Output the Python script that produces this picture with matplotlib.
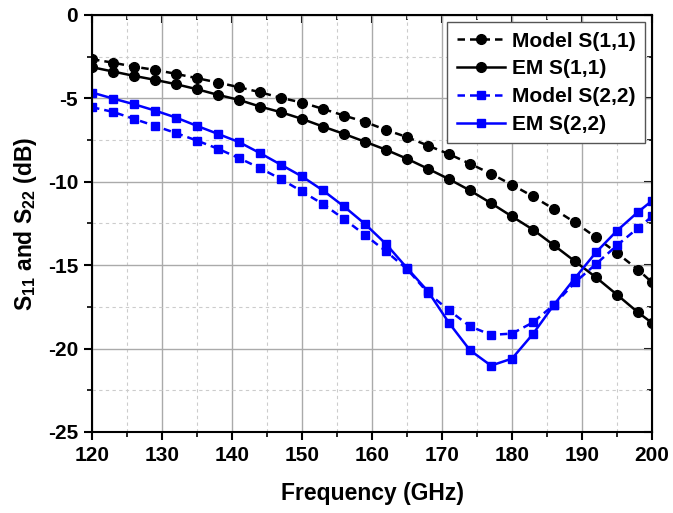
import matplotlib
matplotlib.use("Agg")
import matplotlib.pyplot as plt
from matplotlib.ticker import MultipleLocator

plt.rcParams['font.family'] = ['Liberation Sans', 'DejaVu Sans']
plt.rcParams['font.weight'] = 'bold'
plt.rcParams['axes.unicode_minus'] = False
plt.rcParams['mathtext.fontset'] = 'custom'
plt.rcParams['mathtext.rm'] = 'Liberation Sans:bold'
plt.rcParams['mathtext.bf'] = 'Liberation Sans:bold'

freq = [120, 123, 126, 129, 132, 135, 138, 141, 144, 147, 150, 153, 156, 159,
        162, 165, 168, 171, 174, 177, 180, 183, 186, 189, 192, 195, 198, 200]

model_s11 = [-2.65, -2.86, -3.10, -3.29, -3.53, -3.79, -4.05, -4.33, -4.63, -4.97,
             -5.25, -5.63, -6.03, -6.41, -6.89, -7.32, -7.83, -8.34, -8.92, -9.52,
             -10.18, -10.88, -11.64, -12.44, -13.33, -14.27, -15.27, -16.03]

em_s11 = [-3.13, -3.39, -3.65, -3.89, -4.15, -4.45, -4.79, -5.09, -5.49, -5.83,
          -6.23, -6.69, -7.13, -7.60, -8.08, -8.62, -9.22, -9.84, -10.52, -11.28,
          -12.08, -12.87, -13.81, -14.77, -15.73, -16.77, -17.83, -18.46]

model_s22 = [-5.53, -5.81, -6.23, -6.65, -7.08, -7.53, -8.02, -8.58, -9.18, -9.84,
             -10.58, -11.34, -12.23, -13.19, -14.17, -15.23, -16.66, -17.71, -18.66, -19.18,
             -19.10, -18.43, -17.37, -16.03, -14.93, -13.81, -12.77, -12.08]

em_s22 = [-4.65, -5.01, -5.35, -5.73, -6.15, -6.65, -7.13, -7.62, -8.28, -8.98,
          -9.68, -10.52, -11.48, -12.53, -13.73, -15.17, -16.57, -18.46, -20.10, -21.02,
          -20.60, -19.12, -17.37, -15.77, -14.23, -12.93, -11.81, -11.14]

fig = plt.figure(figsize=(6.73, 5.13), dpi=100)
ax = fig.add_axes([0.1367, 0.1579, 0.8321, 0.8129])

ax.plot(freq, model_s11, color="black", linestyle=(0, (3, 2)), linewidth=1.8,
        marker="o", markersize=7, label="Model S(1,1)")
ax.plot(freq, em_s11, color="black", linestyle="-", linewidth=1.8,
        marker="o", markersize=7, label="EM S(1,1)")
ax.plot(freq, model_s22, color="#0000ff", linestyle=(0, (3, 2)), linewidth=1.8,
        marker="s", markersize=6.3, label="Model S(2,2)")
ax.plot(freq, em_s22, color="#0000ff", linestyle="-", linewidth=1.8,
        marker="s", markersize=6.3, label="EM S(2,2)")

ax.set_xlim(120, 200)
ax.set_ylim(-25, 0)
ax.xaxis.set_major_locator(MultipleLocator(10))
ax.xaxis.set_minor_locator(MultipleLocator(5))
ax.yaxis.set_major_locator(MultipleLocator(5))
ax.yaxis.set_minor_locator(MultipleLocator(2.5))

ax.grid(which="major", color="#aaaaaa", linestyle="-", linewidth=1.0)
ax.grid(which="minor", color="#cccccc", linestyle=(0, (3, 3)), linewidth=0.8)
ax.set_axisbelow(True)

for sp in ax.spines.values():
    sp.set_linewidth(1.5)

ax.tick_params(which="major", direction="out", length=6, width=1.5, labelsize=15, pad=4)
ax.tick_params(which="minor", direction="out", length=3.5, width=1.2)

# mirrored ticks on top and right point inward
top = ax.secondary_xaxis("top")
top.xaxis.set_major_locator(MultipleLocator(10))
top.xaxis.set_minor_locator(MultipleLocator(5))
top.tick_params(which="major", direction="in", length=6, width=1.5, labeltop=False)
top.tick_params(which="minor", direction="in", length=3.5, width=1.2)
right = ax.secondary_yaxis("right")
right.yaxis.set_major_locator(MultipleLocator(5))
right.yaxis.set_minor_locator(MultipleLocator(2.5))
right.tick_params(which="major", direction="in", length=6, width=1.5, labelright=False)
right.tick_params(which="minor", direction="in", length=3.5, width=1.2)

ax.set_xlabel("Frequency (GHz)", fontsize=16.5, fontweight="bold", labelpad=12)
ax.set_ylabel(r"S$_{\mathrm{11}}$ and S$_{\mathrm{22}}$ (dB)", fontsize=16.5,
              fontweight="bold", labelpad=6)

leg = ax.legend(loc="upper right", fontsize=15, handlelength=2.3, handletextpad=0.33,
                borderpad=0.45, labelspacing=0.42, fancybox=False, framealpha=1,
                borderaxespad=0.35)
leg.get_frame().set_edgecolor("#555555")
leg.get_frame().set_linewidth(1.0)

fig.savefig("out.png", dpi=100)
